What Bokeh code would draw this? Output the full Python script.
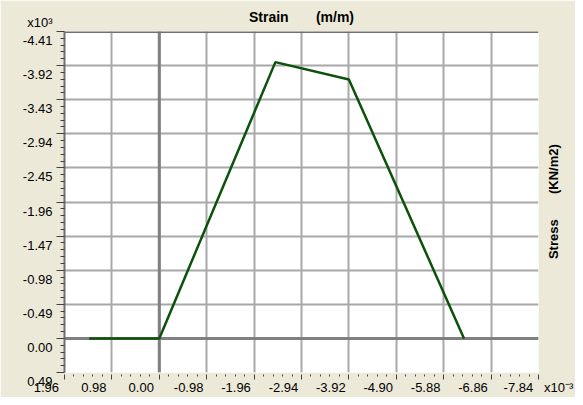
from bokeh.plotting import figure
from bokeh.models import (Range1d, FixedTicker, Span, LinearAxis, CustomJSTickFormatter)
from bokeh.embed import file_html
from bokeh.resources import INLINE

# data (strain in x10^-3 m/m, stress in x10^3 KN/m2)
strain = [1.45, 0.00, -2.40, -3.92, -6.30]
stress = [0.00, 0.00, -3.97, -3.72, 0.00]

x_ticks = [1.96, 0.98, 0.00, -0.98, -1.96, -2.94, -3.92, -4.90, -5.88, -6.86, -7.84]
x_labels = ["1.96", "0.98", "0.00", "-0.98", "-1.96", "-2.94", "-3.92", "-4.90",
            "-5.88", "-6.86", "-7.84"]
y_ticks = [0.49, 0.00, -0.49, -0.98, -1.47, -1.96, -2.45, -2.94, -3.43, -3.92, -4.41]
y_labels = ["0.49", "0.00", "-0.49", "-0.98", "-1.47", "-1.96", "-2.45", "-2.94",
            "-3.43", "-3.92", "-4.41"]
x_scale = "x10\u207b\u00b3"
y_scale = "x10\u00b3"

NB = "\u00a0"
title_text = "Strain" + NB * 7 + "(m/m)"
ylab_text = "Stress" + NB * 7 + "(KN/m2)"

W, H = 575, 397
LEFT, TOP, RIGHT, BOTTOM = 64, 29, 37, 25
RIGHT_LABEL_AT = -1.14  # vertical anchor of the right-hand title (bottom end)
FONT = "Liberation Sans"

p = figure(width=W, height=H, output_backend="svg", toolbar_location=None,
           x_range=Range1d(x_ticks[0], x_ticks[-1]),
           y_range=Range1d(y_ticks[0], y_ticks[-1]),
           min_border_left=LEFT, min_border_right=RIGHT, min_border_top=TOP,
           min_border_bottom=BOTTOM)
p.background_fill_color = "white"
p.border_fill_color = "#ECE9D8"
p.outline_line_color = None

p.title.text = title_text
p.title.align = "center"
p.title.text_font = FONT
p.title.text_font_size = "14px"
p.title.text_font_style = "bold"
p.title.text_color = "#000000"
p.title.standoff = 13


def minors(ticks):
    out = []
    for a, b in zip(ticks[:-1], ticks[1:]):
        for k in range(1, 5):
            out.append(a + (b - a) * k / 5.0)
    return out


LOOKUP = """
let i = 0, best = 1e9;
for (let k = 0; k < tv.length; k++) {
  const d = Math.abs(tv[k] - tick);
  if (d < best) { best = d; i = k; }
}
return lbl[i];
"""

# x labels sit to the left of their ticks (padding shifts the centred text)
xl = [s + NB * 10 for s in x_labels]
xl[-1] = x_labels[-1] + NB * 3 + x_scale
# y labels sit just below their ticks; the scale note rides on the top one
yl = [NB + "\n" + s for s in y_labels]
yl[-1] = y_scale + "\n" + y_labels[-1]

# x axis
xa = p.xaxis[0]
xa.ticker = FixedTicker(ticks=x_ticks, minor_ticks=minors(x_ticks))
xa.formatter = CustomJSTickFormatter(args=dict(tv=x_ticks, lbl=xl), code=LOOKUP)
xa.axis_line_color = None
xa.major_tick_in = -2
xa.major_tick_out = 7
xa.minor_tick_in = -2
xa.minor_tick_out = 4
xa.major_tick_line_color = "#404040"
xa.minor_tick_line_color = "#404040"
xa.major_label_standoff = 0
xa.major_label_text_font = FONT
xa.major_label_text_font_size = "13px"
xa.major_label_text_color = "#000000"

# y axis
ya = p.yaxis[0]
ya.ticker = FixedTicker(ticks=y_ticks, minor_ticks=minors(y_ticks))
ya.formatter = CustomJSTickFormatter(args=dict(tv=y_ticks, lbl=yl), code=LOOKUP)
ya.axis_line_color = "#707070"
ya.axis_line_width = 2
ya.major_tick_in = 0
ya.major_tick_out = 8
ya.minor_tick_in = 0
ya.minor_tick_out = 4
ya.major_tick_line_color = "#404040"
ya.minor_tick_line_color = "#404040"
ya.major_label_standoff = 4
ya.major_label_text_font = FONT
ya.major_label_text_font_size = "13px"
ya.major_label_text_color = "#000000"

# right-hand axis title (drawn as the single label of a tickless axis)
ra = LinearAxis(ticker=FixedTicker(ticks=[RIGHT_LABEL_AT], minor_ticks=[]),
                formatter=CustomJSTickFormatter(args=dict(t=ylab_text), code="return t"))
ra.axis_line_color = None
ra.major_tick_line_color = None
ra.minor_tick_line_color = None
ra.major_tick_out = 0
ra.major_tick_in = 0
ra.major_label_standoff = 15
ra.major_label_orientation = 1.5708
ra.major_label_text_font = FONT
ra.major_label_text_font_size = "13px"
ra.major_label_text_font_style = "bold"
ra.major_label_text_color = "#000000"
p.add_layout(ra, "right")

# grids
p.xgrid.ticker = FixedTicker(ticks=x_ticks[1:-1])
p.ygrid.ticker = FixedTicker(ticks=y_ticks[1:-1])
for g in (p.xgrid[0], p.ygrid[0]):
    g.grid_line_color = "#A8A8A8"
    g.grid_line_width = 2

# zero lines and top border
p.add_layout(Span(location=0, dimension="height", line_color="#808080",
                  line_width=3, level="underlay"))
p.add_layout(Span(location=0, dimension="width", line_color="#808080",
                  line_width=3, level="underlay"))
p.add_layout(Span(location=y_ticks[-1], dimension="width", line_color="#707070",
                  line_width=3, level="underlay"))

p.line(strain, stress, line_color="#0B520B", line_width=2.5)

open("out.html", "w").write(file_html(p, INLINE))
